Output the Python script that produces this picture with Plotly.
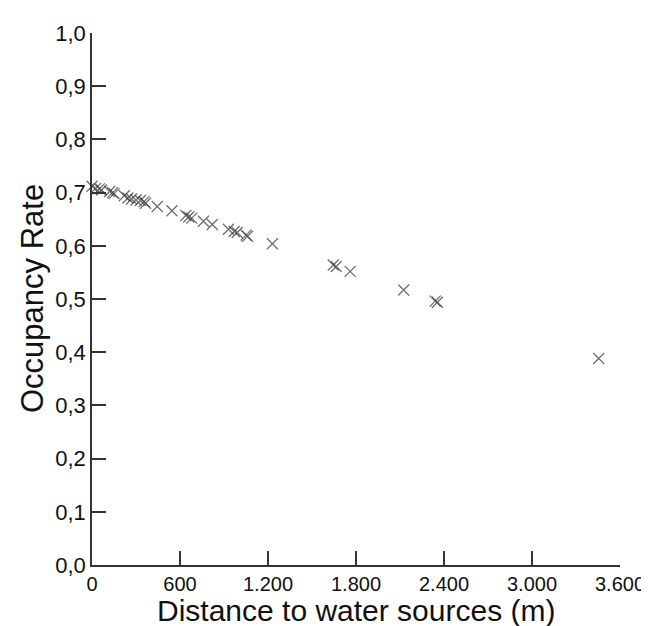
import plotly.graph_objects as go

distance_m = [0, 25, 50, 65, 120, 140, 150, 220, 245, 270, 300, 330, 355, 365,
              445, 545, 640, 660, 680, 760, 820, 930, 970, 990, 1050, 1060,
              1230, 1645, 1665, 1760, 2125, 2340, 2355, 3455]
occupancy = [0.712, 0.708, 0.707, 0.705, 0.702, 0.700, 0.698, 0.694, 0.690,
             0.688, 0.686, 0.685, 0.683, 0.680, 0.674, 0.666, 0.657, 0.654,
             0.652, 0.646, 0.640, 0.631, 0.627, 0.625, 0.620, 0.618, 0.604,
             0.564, 0.561, 0.552, 0.517, 0.496, 0.494, 0.388]

x_tickvals = [0, 600, 1200, 1800, 2400, 3000, 3600]
x_ticktext = ["0", "600", "1.200", "1.800", "2.400", "3.000", "3.600"]
y_tickvals = [0.0, 0.1, 0.2, 0.3, 0.4, 0.5, 0.6, 0.7, 0.8, 0.9, 1.0]
y_ticktext = ["0,0", "0,1", "0,2", "0,3", "0,4", "0,5", "0,6", "0,7", "0,8", "0,9", "1,0"]

x_title = "Distance to water sources (m)"
y_title = "Occupancy Rate"

FONT = "Arial, Liberation Sans, sans-serif"

fig = go.Figure()
fig.add_trace(go.Scatter(
    x=distance_m, y=occupancy, mode="markers",
    marker=dict(symbol="x-thin", size=11, color="rgba(50,50,50,0.7)",
                line=dict(width=1.3, color="rgba(50,50,50,0.7)")),
    showlegend=False, cliponaxis=False,
))

axis_common = dict(showline=True, linecolor="#333", linewidth=1.5,
                   ticks="inside", ticklen=14, tickwidth=1.5, tickcolor="#333",
                   showgrid=False, zeroline=False)

fig.update_xaxes(range=[0, 3600], tickvals=x_tickvals, ticktext=x_ticktext,
                 tickfont=dict(family=FONT, size=20, color="#111"), **axis_common)
fig.update_yaxes(range=[0, 1.0], tickvals=y_tickvals, ticktext=y_ticktext,
                 tickfont=dict(family=FONT, size=22, color="#111"), **axis_common)

fig.add_annotation(text=x_title, xref="paper", yref="paper", x=0.5, y=0,
                   xanchor="center", yanchor="top", yshift=-28, showarrow=False,
                   borderpad=0, font=dict(family=FONT, size=30, color="#111"))
fig.add_annotation(text=y_title, xref="paper", yref="paper", x=0, y=0.5,
                   xanchor="center", yanchor="middle", xshift=-60, textangle=-90,
                   showarrow=False, font=dict(family=FONT, size=31, color="#111"))

fig.update_layout(width=649, height=626,
                  margin=dict(l=84, r=32, t=25, b=69, pad=0),
                  plot_bgcolor="white", paper_bgcolor="white")

fig.write_html("out.html")
